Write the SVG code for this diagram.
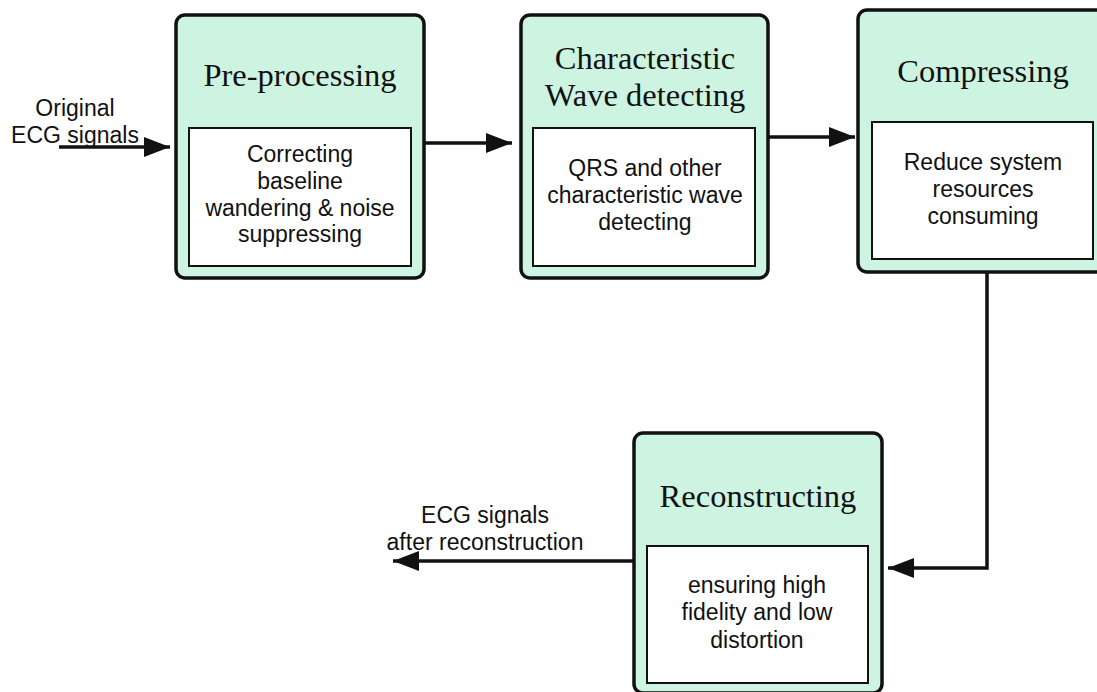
<svg xmlns="http://www.w3.org/2000/svg" width="1097" height="692" viewBox="0 0 1097 692">
<style>
.outer{fill:#cdf3e1;stroke:#111;stroke-width:3.5}
.inner{fill:#fff;stroke:#111;stroke-width:2}
.title{font-family:"Liberation Serif",serif;font-size:32.5px;fill:#111;text-anchor:middle}
.body{font-family:"Liberation Sans",Arial,sans-serif;font-size:23px;fill:#111;text-anchor:middle}
.conn{fill:none;stroke:#111;stroke-width:3.5}
</style>
<defs>
<marker id="ah" markerWidth="26" markerHeight="20" refX="26" refY="10" orient="auto" markerUnits="userSpaceOnUse">
<path d="M0,0 L26,10 L0,20 Z" fill="#111"/>
</marker>
</defs>
<rect width="1097" height="692" fill="#fff"/>
<g id="connectors">
<line class="conn" x1="59" y1="147" x2="170" y2="147" marker-end="url(#ah)"/>
<line class="conn" x1="424" y1="143" x2="512" y2="143" marker-end="url(#ah)"/>
<line class="conn" x1="768" y1="137" x2="855" y2="137" marker-end="url(#ah)"/>
<polyline class="conn" points="987,272 987,568 888,568" marker-end="url(#ah)"/>
<line class="conn" x1="634" y1="561" x2="393" y2="561" marker-end="url(#ah)"/>
<text class="body" x="75" y="116">Original</text>
<text class="body" x="75" y="143">ECG signals</text>
<text class="body" x="485" y="523">ECG signals</text>
<text class="body" x="485" y="550">after reconstruction</text>
</g>
<g id="preprocessing">
<rect class="outer" x="176" y="15" width="248" height="263" rx="9"/>
<rect class="inner" x="189" y="128" width="222" height="138"/>
<text class="title" x="300" y="86">Pre-processing</text>
<text class="body" x="300" y="162">Correcting</text>
<text class="body" x="300" y="189">baseline</text>
<text class="body" x="300" y="216">wandering &amp; noise</text>
<text class="body" x="300" y="242">suppressing</text>
</g>
<g id="detecting">
<rect class="outer" x="521" y="15" width="247" height="263" rx="9"/>
<rect class="inner" x="533" y="128" width="222" height="138"/>
<text class="title" x="645" y="69">Characteristic</text>
<text class="title" x="645" y="106">Wave detecting</text>
<text class="body" x="645" y="176">QRS and other</text>
<text class="body" x="645" y="203">characteristic wave</text>
<text class="body" x="645" y="230">detecting</text>
</g>
<g id="compressing">
<rect class="outer" x="858" y="10" width="248" height="262" rx="9"/>
<rect class="inner" x="872" y="122" width="221" height="137"/>
<text class="title" x="983" y="82">Compressing</text>
<text class="body" x="983" y="170">Reduce system</text>
<text class="body" x="983" y="197">resources</text>
<text class="body" x="983" y="224">consuming</text>
</g>
<g id="reconstructing">
<rect class="outer" x="634" y="433" width="248" height="260" rx="9"/>
<rect class="inner" x="647" y="546" width="221" height="137"/>
<text class="title" x="758" y="507">Reconstructing</text>
<text class="body" x="757" y="593">ensuring high</text>
<text class="body" x="757" y="620">fidelity and low</text>
<text class="body" x="757" y="648">distortion</text>
</g>
</svg>
